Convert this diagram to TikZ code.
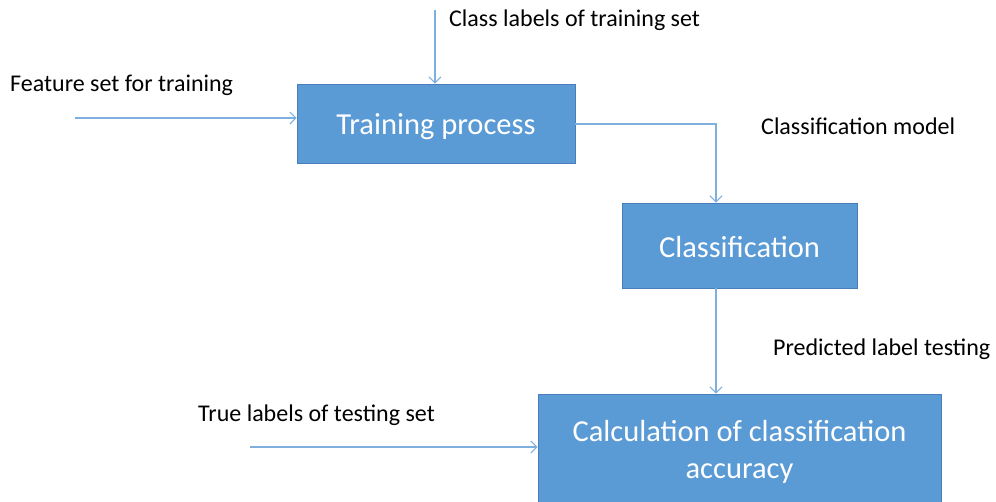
\documentclass[tikz,border=0pt]{standalone}
\usepackage{fontspec}
\setmainfont{Carlito}
\usetikzlibrary{arrows.meta}
\definecolor{boxfill}{HTML}{5B9BD5}
\definecolor{boxline}{HTML}{4A7EBB}
\definecolor{flow}{HTML}{7EB0DF}
\newcommand{\lowered}[2]{\raisebox{-#1}[\height][\depth]{#2}}
\tikzset{
  procbox/.style={draw=boxline, line width=0.8pt, fill=boxfill, text=white,
    font=\fontsize{30.5}{37}\selectfont, inner sep=0pt, align=center},
  lbl/.style={anchor=west, inner sep=0pt, font=\fontsize{24}{28}\selectfont, text=black},
  flowline/.style={draw=flow, line width=1.2pt,
    -{Straight Barb[length=6pt,width=12pt,line width=1.1pt]}}
}
\begin{document}
\begin{tikzpicture}[x=1pt,y=-1pt]
\useasboundingbox (0,0) rectangle (996,502);
% process boxes
\node[procbox, minimum width=278pt, minimum height=79pt] (train) at (436,123.5) {\lowered{3pt}{Training process}};
\node[procbox, minimum width=235pt, minimum height=85pt] (cls) at (739.5,245.5) {\lowered{2pt}{Classification}};
\node[procbox, minimum width=403pt, minimum height=116pt] (acc) at (739.5,452)
  {Calculation of classification\\accuracy};
% free ends of the input arrows
\coordinate (clsin) at (435,10);
\coordinate (featin) at (75,118);
\coordinate (truein) at (250,447);
% labels
\node[lbl] (tclass) at (449,20) {Class labels of training set};
\node[lbl] (tfeat) at (10,85) {Feature set for training};
\node[lbl] (tmodel) at (761,126) {Classification model};
\node[lbl] (tpred) at (773,349) {Predicted label testing};
\node[lbl] (ttrue) at (198,415) {True labels of testing set};
% connectors
\draw[flowline] (clsin) -- (clsin |- train.north);
\draw[flowline] (featin) -- (featin -| train.west);
\draw[flowline] (train.east |- 0,124) -| (716,0 |- cls.north);
\draw[flowline] (716,0 |- cls.south) -- (716,0 |- acc.north);
\draw[flowline] (truein) -- (truein -| acc.west);
\end{tikzpicture}
\end{document}
